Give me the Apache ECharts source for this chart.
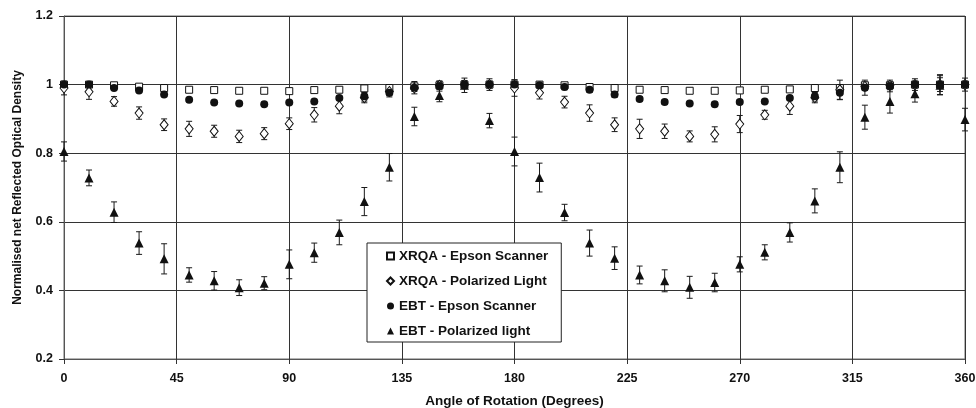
<!DOCTYPE html>
<html>
<head>
<meta charset="utf-8">
<script src="https://cdn.jsdelivr.net/npm/echarts@6/dist/echarts.min.js"></script>
<style>
html,body{margin:0;padding:0;background:#fff;}
#container{width:976px;height:408px;}
</style>
</head>
<body>
<div id="container"></div>
<script>
// angle of rotation (degrees)
var angles = [0,10,20,30,40,50,60,70,80,90,100,110,120,130,140,150,160,170,180,190,200,210,220,230,240,250,260,270,280,290,300,310,320,330,340,350,360];
// XRQA - Epson Scanner
var xrqaEpson = [1.0,1.0,0.998,0.994,0.99,0.985,0.984,0.982,0.982,0.981,0.984,0.985,0.989,0.99,0.995,0.998,1.0,1.0,1.0,1.0,0.998,0.993,0.99,0.985,0.984,0.982,0.982,0.983,0.985,0.986,0.99,0.99,0.998,0.998,1.0,1.0,1.0];
// XRQA - Polarized Light
var xrqaPol = [0.99,0.979,0.951,0.917,0.883,0.871,0.864,0.849,0.857,0.886,0.912,0.937,0.962,0.98,0.99,0.998,1.0,1.0,0.99,0.976,0.949,0.917,0.883,0.871,0.864,0.849,0.855,0.885,0.912,0.937,0.962,0.985,0.995,0.998,1.0,1.0,1.0];
var xrqaPolErr = [0.02,0.022,0.014,0.018,0.017,0.022,0.0175,0.018,0.0175,0.017,0.021,0.022,0.015,0.012,0.01,0.01,0.01,0.01,0.024,0.018,0.017,0.024,0.02,0.028,0.021,0.016,0.022,0.025,0.013,0.024,0.015,0.028,0.012,0.01,0.01,0.029,0.01];
// EBT - Epson Scanner
var ebtEpson = [1.0,1.0,0.99,0.983,0.971,0.956,0.948,0.945,0.943,0.948,0.951,0.961,0.966,0.976,0.991,0.996,1.0,1.0,1.0,0.998,0.993,0.985,0.971,0.958,0.949,0.945,0.943,0.949,0.951,0.961,0.966,0.976,0.991,0.996,1.0,1.0,1.0];
var ebtEpsonErr = [0.006,0.006,0.006,0.006,0.006,0.006,0.006,0.006,0.006,0.006,0.006,0.006,0.014,0.012,0.018,0.015,0.012,0.017,0.014,0.008,0.008,0.008,0.008,0.006,0.006,0.006,0.006,0.006,0.006,0.006,0.014,0.02,0.022,0.017,0.017,0.02,0.019];
// EBT - Polarized light
var ebtPol = [0.805,0.728,0.628,0.538,0.492,0.445,0.428,0.408,0.421,0.476,0.51,0.569,0.659,0.759,0.907,0.968,0.998,0.895,0.805,0.729,0.627,0.538,0.494,0.445,0.428,0.409,0.423,0.476,0.511,0.569,0.661,0.759,0.905,0.951,0.973,0.998,0.898];
var ebtPolErr = [0.028,0.023,0.03,0.033,0.044,0.021,0.027,0.023,0.019,0.042,0.028,0.036,0.041,0.04,0.027,0.018,0.021,0.021,0.042,0.042,0.024,0.038,0.033,0.026,0.032,0.032,0.027,0.022,0.022,0.028,0.035,0.045,0.035,0.034,0.024,0.028,0.033];

var fontName = '"Liberation Sans", Arial, sans-serif';

// pair angles with values
function pts(vals){
    var out = [];
    for (var i = 0; i < angles.length; i++) {
        out.push([angles[i], vals[i]]);
    }
    return out;
}
// [angle, low, high] for error bars
function errPts(vals, errs){
    var out = [];
    for (var i = 0; i < angles.length; i++) {
        out.push([angles[i], vals[i] - errs[i], vals[i] + errs[i]]);
    }
    return out;
}
function drawErr(params, api){
    var lo = api.coord([api.value(0), api.value(1)]);
    var hi = api.coord([api.value(0), api.value(2)]);
    var w = 3;
    var st = {stroke: '#1a1a1a', lineWidth: 1};
    return {
        type: 'group',
        children: [
            {type: 'line', shape: {x1: lo[0], y1: lo[1], x2: hi[0], y2: hi[1]}, style: st},
            {type: 'line', shape: {x1: lo[0] - w, y1: lo[1], x2: lo[0] + w, y2: lo[1]}, style: st},
            {type: 'line', shape: {x1: hi[0] - w, y1: hi[1], x2: hi[0] + w, y2: hi[1]}, style: st}
        ]
    };
}
function errSeries(vals, errs){
    return {
        type: 'custom',
        renderItem: drawErr,
        encode: {x: 0, y: [1, 2]},
        data: errPts(vals, errs),
        silent: true,
        z: 1
    };
}

var dom = document.getElementById("container");
var myChart = echarts.init(dom);
var option = {
    animation: false,
    textStyle: {fontFamily: fontName},
    grid: {
        left: 64, right: 11, top: 16, bottom: 49,
        outerBoundsMode: 'none', containLabel: false,
        show: true, borderColor: '#6a6a6a', borderWidth: 1
    },
    legend: {
        orient: 'vertical',
        left: 367,
        top: 243,
        padding: [6, 13, 4, 19],
        itemGap: 11,
        itemWidth: 7,
        itemHeight: 7,
        backgroundColor: '#fff',
        borderColor: '#222',
        borderWidth: 1,
        textStyle: {fontFamily: fontName, fontWeight: 'bold', fontSize: 13.5, color: '#111'},
        data: ['XRQA - Epson Scanner', 'XRQA - Polarized Light', 'EBT - Epson Scanner', 'EBT - Polarized light']
    },
    xAxis: {
        type: 'value',
        min: 0,
        max: 360,
        interval: 45,
        name: 'Angle of Rotation (Degrees)',
        nameLocation: 'middle',
        nameGap: 35,
        nameTextStyle: {fontFamily: fontName, fontWeight: 'bold', fontSize: 13.5, color: '#111'},
        axisLine: {lineStyle: {color: '#555'}},
        axisTick: {show: true, length: 5, lineStyle: {color: '#333'}},
        axisLabel: {margin: 13, fontFamily: fontName, fontWeight: 'bold', fontSize: 12.5, color: '#111'},
        splitLine: {show: true, lineStyle: {color: '#333', width: 1}}
    },
    yAxis: {
        type: 'value',
        min: 0.2,
        max: 1.2,
        interval: 0.2,
        name: 'Normalised net Reflected Optical Density',
        nameLocation: 'middle',
        nameGap: 40,
        nameTextStyle: {fontFamily: fontName, fontWeight: 'bold', fontSize: 12, color: '#111'},
        axisLine: {show: true, lineStyle: {color: '#555'}},
        axisTick: {show: true, length: 5, lineStyle: {color: '#333'}},
        axisLabel: {margin: 11, fontFamily: fontName, fontWeight: 'bold', fontSize: 12.5, color: '#111'},
        splitLine: {show: true, lineStyle: {color: '#333', width: 1}}
    },
    series: [
        errSeries(xrqaPol, xrqaPolErr),
        errSeries(ebtEpson, ebtEpsonErr),
        errSeries(ebtPol, ebtPolErr),
        {
            name: 'XRQA - Epson Scanner',
            type: 'scatter',
            symbol: 'rect',
            symbolSize: 7,
            itemStyle: {color: '#fff', borderColor: '#111', borderWidth: 1, opacity: 1},
            data: pts(xrqaEpson),
            z: 2
        },
        {
            name: 'XRQA - Polarized Light',
            type: 'scatter',
            symbol: 'diamond',
            symbolSize: [8, 10],
            itemStyle: {color: '#fff', borderColor: '#111', borderWidth: 1, opacity: 1},
            data: pts(xrqaPol),
            z: 3
        },
        {
            name: 'EBT - Epson Scanner',
            type: 'scatter',
            symbol: 'circle',
            symbolSize: 8,
            itemStyle: {color: '#111', opacity: 1},
            data: pts(ebtEpson),
            z: 4
        },
        {
            name: 'EBT - Polarized light',
            type: 'scatter',
            symbol: 'triangle',
            symbolSize: 9,
            itemStyle: {color: '#111', opacity: 1},
            data: pts(ebtPol),
            z: 5
        }
    ]
};
if (option && typeof option === "object") {
    myChart.setOption(option, true);
}
</script>
</body>
</html>
